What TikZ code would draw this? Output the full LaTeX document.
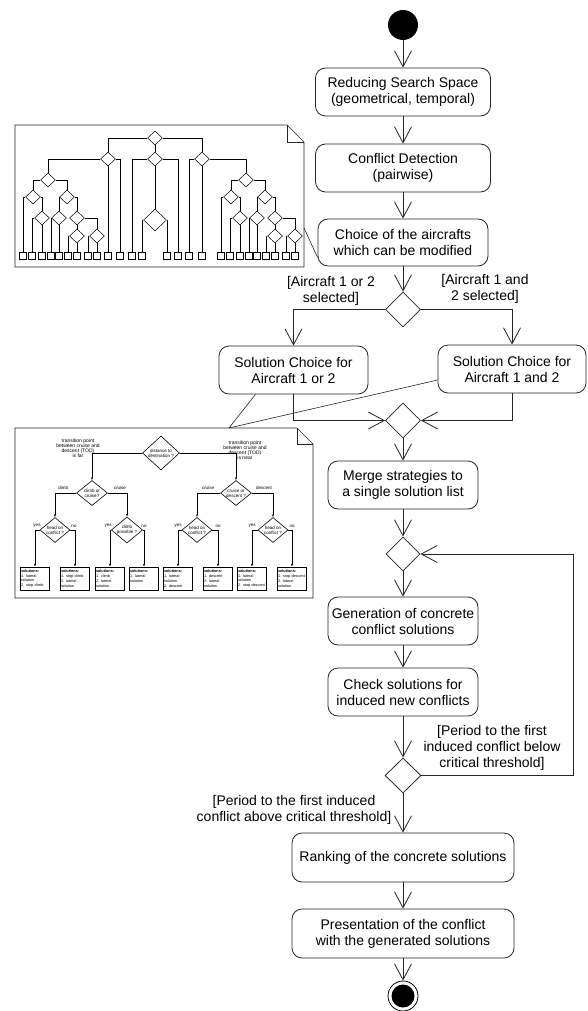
\documentclass[tikz,border=0pt]{standalone}
\usepackage{fontspec}
\setmainfont{Liberation Sans}
\usepackage{tikz}
\usetikzlibrary{shapes.geometric,arrows.meta}

\newcommand{\mainsize}{\fontsize{14}{16}\selectfont}
\newcommand{\insetsize}{\fontsize{4.5}{5}\selectfont}
\newcommand{\solsize}{\fontsize{3.8}{4.8}\selectfont\hyphenpenalty=10000}

\begin{document}
\begin{tikzpicture}[x=1pt, y=-1pt,
  action/.style={draw=black!85, line width=0.8pt, rounded corners=10pt, align=center, inner sep=0pt, font=\mainsize},
  decision/.style={draw=black!85, line width=0.8pt, diamond, minimum width=35pt, minimum height=35pt, inner sep=0pt},
  guard/.style={align=center, inner sep=0pt, font=\mainsize},
  flow/.style={draw=black!85, line width=0.8pt, -{Straight Barb[length=16pt,width=17pt]}},
  startnode/.style={circle, fill=black, minimum size=30pt, inner sep=0pt},
  endnode/.style={circle, draw=black, line width=0.8pt, minimum size=30pt, inner sep=0pt,
    path picture={\fill[black] (path picture bounding box.center) circle (11.5pt);}},
  noteline/.style={draw=black!85, line width=0.6pt},
  smalldec/.style={draw, diamond, aspect=1.2, line width=0.6pt, inner sep=0pt, align=center, font=\insetsize},
  smallsol/.style={draw, line width=0.6pt, align=left, text width=28pt, inner sep=0.5pt, minimum height=23pt, font=\solsize},
  smalltext/.style={align=center, inner sep=0pt, font=\insetsize},
  smallflow/.style={line width=0.6pt, -{Latex[length=2.5pt,width=2pt]}},
  tinydec/.style={draw, diamond, line width=0.5pt, minimum width=15pt, minimum height=14pt, inner sep=0pt},
  tinyleaf/.style={draw, line width=0.5pt, minimum size=7pt, inner sep=0pt},
  tinyline/.style={line width=0.5pt}
]
\useasboundingbox (0,0) rectangle (587,1011);

% main flow
\node[startnode] (start) at (403,25) {};
\node[action, minimum width=175pt, minimum height=48pt] (reduce) at (403,92) {Reducing Search Space\\(geometrical, temporal)};
\node[action, minimum width=175pt, minimum height=48pt] (detect) at (403,168) {Conflict Detection\\(pairwise)};
\node[action, minimum width=170pt, minimum height=47pt] (choice) at (403,242.5) {Choice of the aircrafts\\which can be modified};
\node[decision] (pick) at (403,309.5) {};
\node[action, minimum width=149pt, minimum height=48pt] (solone) at (293.5,370) {Solution Choice for\\Aircraft 1 or 2};
\node[action, minimum width=148pt, minimum height=48pt] (solboth) at (512,369) {Solution Choice for\\Aircraft 1 and 2};
\node[decision] (join) at (403,420.5) {};
\node[action, minimum width=150pt, minimum height=48pt] (merge) at (403,485) {Merge strategies to\\a single solution list};
\node[decision, minimum width=34pt, minimum height=34pt] (again) at (403,554) {};
\node[action, minimum width=150pt, minimum height=48pt] (generate) at (403,621) {Generation of concrete\\conflict solutions};
\node[action, minimum width=150pt, minimum height=48pt] (check) at (403,692) {Check solutions for\\induced new conflicts};
\node[decision, minimum width=36pt] (period) at (403,775.5) {};
\node[action, minimum width=222pt, minimum height=49pt] (rank) at (403,857.5) {Ranking of the concrete solutions};
\node[action, minimum width=222pt, minimum height=49pt] (present) at (403,933.5) {Presentation of the conflict\\with the generated solutions};
\node[endnode] (stop) at (403,996) {};
\coordinate (loopback) at (573,554);

\draw[flow] (start) -- (reduce);
\draw[flow] (reduce) -- (detect);
\draw[flow] (detect) -- (choice);
\draw[flow] (choice) -- (pick);
\draw[flow] (pick.west) -| (solone.north);
\draw[flow] (pick.east) -| (solboth.north);
\draw[flow] (solone.south) |- (join.west);
\draw[flow] (solboth.south) |- (join.east);
\draw[flow] (join) -- (merge);
\draw[flow] (merge) -- (again);
\draw[flow] (again) -- (generate);
\draw[flow] (generate) -- (check);
\draw[flow] (check) -- (period);
\draw[flow] (period.east) -| (loopback) |- (again.east);
\draw[flow] (period) -- (rank);
\draw[flow] (rank) -- (present);
\draw[flow] (present) -- (stop);

% guards
\node[guard] (guardone) at (331,291) {[Aircraft 1 or 2\\selected]};
\node[guard] (guardboth) at (485,289) {[Aircraft 1 and\\2 selected]};
\node[guard] (guardbelow) at (492,748) {[Period to the first\\induced conflict below\\critical threshold]};
\node[guard] (guardabove) at (294,810) {[Period to the first induced\\conflict above critical threshold]};

% note with the full decision tree
\draw[noteline] (15,125) -- (287,125) -- (304,142) -- (304,267) -- (15,267) -- cycle;
\draw[noteline] (287,125) -- (287,142) -- (304,142);
\coordinate (treenote) at (304,228);
\draw[noteline] (treenote) -- (choice.190);

\foreach \p/\dx in {a/0, b/198} {
  \node[tinydec] (\p0) at (48+\dx,180) {};
  \node[tinydec] (\p1) at (33+\dx,197) {};
  \node[tinydec] (\p2) at (67+\dx,197) {};
  \node[tinydec] (\p3) at (42+\dx,218) {};
  \node[tinydec] (\p5) at (59+\dx,218) {};
  \node[tinydec] (\p6) at (77+\dx,218) {};
  \node[tinydec] (\p7) at (77+\dx,236) {};
  \node[tinydec] (\p8) at (97+\dx,236) {};
  \foreach \k/\x in {1/23, 2/32, 3/42, 4/51, 5/59, 6/68, 7/77, 8/88, 9/97}
    \node[tinyleaf] (\p-\k) at (\x+\dx,256) {};
  \draw[tinyline] (\p0.west) -| (\p1.north);
  \draw[tinyline] (\p0.east) -| (\p2.north);
  \draw[tinyline] (\p1.west) -| (\p-1.north);
  \draw[tinyline] (\p1.east) -| (\p3.north);
  \draw[tinyline] (\p3.west) -| (\p-2.north);
  \draw[tinyline] (\p3) -- (\p-3);
  \draw[tinyline] (\p2.west) -| (\p5.north);
  \draw[tinyline] (\p2.east) -| (\p6.north);
  \draw[tinyline] (\p5.west) -| (\p-4.north);
  \draw[tinyline] (\p5) -- (\p-5);
  \draw[tinyline] (\p6) -- (\p7);
  \draw[tinyline] (\p6.east) -| (\p8.north);
  \draw[tinyline] (\p7.west) -| (\p-6.north);
  \draw[tinyline] (\p7) -- (\p-7);
  \draw[tinyline] (\p8.west) -| (\p-8.north);
  \draw[tinyline] (\p8) -- (\p-9);
}
\node[tinydec] (root) at (155,138) {};
\node[tinydec] (nodel) at (108,159) {};
\node[tinydec] (nodem) at (155,159) {};
\node[tinydec] (noder) at (202,159) {};
\node[tinydec, minimum width=23pt, minimum height=22pt] (nodemm) at (155,220) {};
\foreach \n/\x in {la/108, lb/120, lc/132, ld/142, le/167, lf/178, lg/189, lh/202}
  \node[tinyleaf] (\n) at (\x,256) {};
\draw[tinyline] (root.west) -| (nodel.north);
\draw[tinyline] (root) -- (nodem);
\draw[tinyline] (root.east) -| (noder.north);
\draw[tinyline] (nodel.west) -| (a0.north);
\draw[tinyline] (nodel) -- (la);
\draw[tinyline] (nodel.east) -| (lb.north);
\draw[tinyline] (nodem.west) -| (lc.north);
\draw[tinyline] (nodem) -- (nodemm);
\draw[tinyline] (nodem.east) -| (lf.north);
\draw[tinyline] (nodemm.west) -| (ld.north);
\draw[tinyline] (nodemm.east) -| (le.north);
\draw[tinyline] (noder.west) -| (lg.north);
\draw[tinyline] (noder) -- (lh);
\draw[tinyline] (noder.east) -| (b0.north);

% note with the solution strategies
\draw[noteline] (15,428) -- (297,428) -- (313,444) -- (313,598) -- (15,598) -- cycle;
\draw[noteline] (297,428) -- (297,444) -- (313,444);
\coordinate (solnote) at (229,428);
\draw[noteline] (solnote) -- ([xshift=-38pt]solone.south);
\draw[noteline] (solnote) -- ([yshift=-11pt]solboth.west);

\node[smalldec, minimum width=37pt, minimum height=34pt] (dist) at (161,453) {distance to\\destination ?};
\node[smalldec, minimum width=31pt, minimum height=25pt] (climbq) at (92,493) {climb or\\cruise?};
\node[smalldec, minimum width=31pt, minimum height=25pt] (descq) at (236,493) {cruise or\\descent ?};
\node[smalldec, minimum width=30pt, minimum height=25pt] (headone) at (55,530) {head on\\conflict ?};
\node[smalldec, minimum width=30pt, minimum height=25pt] (climbok) at (127,530) {climb\\possible ?};
\node[smalldec, minimum width=30pt, minimum height=25pt] (headtwo) at (197,530) {head on\\conflict ?};
\node[smalldec, minimum width=30pt, minimum height=25pt] (headthree) at (273,530) {head on\\conflict ?};

\foreach \n/\x/\items in {
    sola/35/{1. lateral\\solution\\2. stop climb},
    solb/75/{1. stop climb\\2. lateral\\solution},
    solc/110/{1. climb\\2. lateral\\solution},
    sold/144/{1. lateral\\solution\\~},
    sole/178/{1. lateral\\solution\\2. descent},
    solf/218/{1. descent\\2. lateral\\solution},
    solg/252/{1. lateral\\solution\\2. stop descent},
    solh/292/{1. stop descent\\2. lateral\\solution}}
  \node[smallsol] (\n) at (\x,578.5) {\textbf{solutions:}\\\items};

\draw[smallflow] (dist.west) -| (climbq.north);
\draw[smallflow] (dist.east) -| (descq.north);
\draw[smallflow] (climbq.west) -| (headone.north);
\draw[smallflow] (climbq.east) -| (climbok.north);
\draw[smallflow] (descq.west) -| (headtwo.north);
\draw[smallflow] (descq.east) -| (headthree.north);
\foreach \q/\l/\r in {headone/sola/solb, climbok/solc/sold, headtwo/sole/solf, headthree/solg/solh} {
  \draw[smallflow] (\q.west) -| (\l.north);
  \draw[smallflow] (\q.east) -| (\r.north);
}

\node[smalltext, font=\fontsize{5}{5}\selectfont] (farlbl) at (78,448.5) {transition point\\between cruise and\\descent (TOD)\\is far};
\node[smalltext, font=\fontsize{5}{5}\selectfont] (nearlbl) at (245,450) {transition point\\between cruise and\\descent (TOD)\\is near};
\node[smalltext] (climblbl) at (63,488) {climb};
\node[smalltext] (cruiselbla) at (120,488) {cruise};
\node[smalltext] (cruiselblb) at (208,488) {cruise};
\node[smalltext] (descentlbl) at (264,488) {descent};
\foreach \xa/\xb/\i in {37/74/a, 108/144/b, 178/218/c, 252/292/d} {
  \node[smalltext] (yes\i) at (\xa,526) {yes};
  \node[smalltext] (no\i) at (\xb,526) {no};
}
\end{tikzpicture}
\end{document}
